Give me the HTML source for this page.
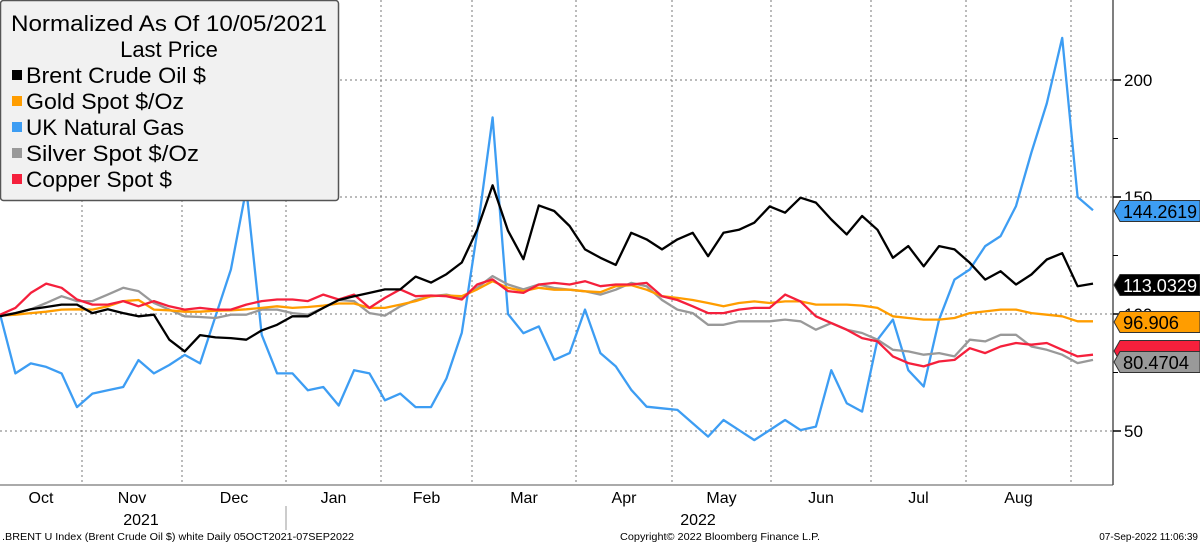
<!DOCTYPE html>
<html><head><meta charset="utf-8"><style>
body{margin:0;background:#fff;}
svg{display:block;font-family:"Liberation Sans",sans-serif;}
</style></head><body>
<svg id="chart" width="1200" height="544" viewBox="0 0 1200 544">
<g id="grid"></g>
<g id="series"></g>
<g id="axes"></g>
<g>
  <rect x="0.5" y="0.5" width="338" height="200" rx="3" fill="#f1f1f1" stroke="#555" stroke-width="1.5"/>
  <text x="169" y="31" font-size="22" text-anchor="middle" textLength="316" lengthAdjust="spacingAndGlyphs">Normalized As Of 10/05/2021</text>
  <text x="169" y="57" font-size="22" text-anchor="middle">Last Price</text>
  <g><rect x="12" y="70" width="10" height="10" fill="#000"/><text x="26" y="83" font-size="22" textLength="180" lengthAdjust="spacingAndGlyphs">Brent Crude Oil $</text></g>
  <g><rect x="12" y="96" width="10" height="10" fill="#ff9d00"/><text x="26" y="109" font-size="22" textLength="158" lengthAdjust="spacingAndGlyphs">Gold Spot $/Oz</text></g>
  <g><rect x="12" y="122" width="10" height="10" fill="#3d9df3"/><text x="26" y="135" font-size="22" textLength="158" lengthAdjust="spacingAndGlyphs">UK Natural Gas</text></g>
  <g><rect x="12" y="148" width="10" height="10" fill="#999"/><text x="26" y="161" font-size="22" textLength="173" lengthAdjust="spacingAndGlyphs">Silver Spot $/Oz</text></g>
  <g><rect x="12" y="174" width="10" height="10" fill="#f5203c"/><text x="26" y="187" font-size="22" textLength="146" lengthAdjust="spacingAndGlyphs">Copper Spot $</text></g>
</g>
<g id="tags"></g>
<g font-size="10">
  <text x="2" y="540" textLength="352" lengthAdjust="spacingAndGlyphs">.BRENT U Index (Brent Crude Oil $) white  Daily 05OCT2021-07SEP2022</text>
  <text x="620" y="540" textLength="200" lengthAdjust="spacingAndGlyphs">Copyright© 2022 Bloomberg Finance L.P.</text>
  <text x="1198" y="540" text-anchor="end">07-Sep-2022 11:06:39</text>
</g>
</svg>
<script>
const months = ["Oct","Nov","Dec","Jan","Feb","Mar","Apr","May","Jun","Jul","Aug"];
const monthBounds = [0,82,182,286,381,472,576,672,771,871,966,1071];
const yTicks = [50,100,150,200];
const brent = [99,100.4,102,103,104,104,100.4,102,100.4,99,99.7,89,84,91,90,89.7,89,93,95.4,99,99,102.6,106,107.6,109,110.5,110.5,116,113.4,117,122,136,155,135.6,123.4,146.4,
144,137.6,127.6,124,121,134.7,131.9,127.6,131.9,134.7,124.7,134.7,136,139,146,143.3,149.7,147.6,140.4,134,141.9,136,124,129,120.4,129,127.6,121.9,114.7,118.3,112.6,116.9,123.3,126,111.9,113];
const gold = [99.3,99.7,100.4,101,101.9,102,101.9,103.3,105.5,106,101.9,101.6,101,101,101.4,101.6,102,102.6,103.3,102.6,103,103.6,104.5,104.5,102.6,102.6,104,105.5,107.6,107.9,107.6,110.5,114,111.2,109.8,111.2,
110.4,110.4,109.7,109.3,111.9,112.3,110.4,107.6,106.9,106,104.7,103.3,104.7,105.4,104.7,105.4,105.4,104,104,104,103.6,102.6,99,98.3,97.6,97.6,98.3,100.4,101.1,101.9,101.9,100.4,99.7,99,96.9,96.9];
const silver = [99.3,100.4,102,104.7,107.6,105.5,105.5,108.3,111.2,109.8,104.7,101.9,99,98.7,98.3,99.7,99.7,101.9,101.9,100.4,99.7,102.6,106,105.5,100.4,99.3,103.3,106,107.6,108.3,106.9,111.2,116.2,112.6,110.5,112.6,
111.1,110.4,109.7,108.3,110.4,113.3,111.9,106,101.9,100.4,95.4,95.4,96.9,96.9,96.9,97.6,96.9,93.3,96.1,93.3,91.9,89,84.7,84,82.6,83.3,81.9,89,88.3,91.1,91.1,86.1,84.7,82.6,79,80.4];
const copper = [99.7,102.6,109,113,111.2,106.2,104,104,105.5,103.3,105.5,103.3,101.9,102.6,101.9,101.9,104,105.5,106.2,106.2,105.5,108.3,106.2,108.3,102.6,106.9,110.5,107.6,107.9,107.6,106.2,112.6,114.8,109.8,109,112.6,
113.3,112.6,114,111.9,112.6,112.6,113.3,107.6,106,103.3,100.4,100.4,101.9,102.6,102.6,108.3,105.4,99,96.1,93.3,89.7,88.3,81.9,79,77.6,79.7,80.4,85.4,83.3,86.1,87.6,86.9,87.6,84.7,81.9,82.6];
const gas = [100,74.6,78.9,77.4,74.6,60.2,66,67.4,68.8,80.3,74.6,78.2,82.5,78.9,99,119,153.6,91.1,74.6,74.6,67.4,68.8,60.9,76,74.6,63.1,66,60.2,60.2,72.4,92,135,184,100,91.8,94.7,
80.4,83.3,101.9,83.3,77.6,67.6,60.4,59.7,59,53.3,47.6,54.7,50.4,46.1,50.4,54.7,50.4,51.9,76,61.9,58.3,89,97.6,76,69,97.6,114.7,119,129,133.3,146.1,169,190,218,150,144.3];
const lastValues = ["144.2619","113.0329","96.906","80.4704"];

const NS="http://www.w3.org/2000/svg";
const X0=0, X1=1093, N=brent.length;
function xScale(i){return X0+(X1-X0)*i/(N-1);}
function yScale(v){return 314-(v-100)*2.34;}
function mk(tag,attrs,parent){const e=document.createElementNS(NS,tag);for(const k in attrs)e.setAttribute(k,attrs[k]);parent.appendChild(e);return e;}

const grid=document.getElementById('grid');
yTicks.forEach(t=>{
  const l=mk('line',{x1:0,x2:1113,y1:yScale(t),y2:yScale(t),stroke:'#777','stroke-dasharray':'2,3','stroke-width':1},grid);
  
  
});
monthBounds.slice(1).forEach((b,i)=>{
  const l=mk('line',{x1:b,x2:b,y1:0,y2:485,stroke:'#777','stroke-dasharray':'2,3','stroke-width':1},grid);
  
  
});

const seriesG=document.getElementById('series');
const defs=[[gas,'#3d9df3','gas-line'],[silver,'#999999','silver-line'],[gold,'#ff9d00','gold-line'],[copper,'#f5203c','copper-line'],[brent,'#000000','brent-line']];
defs.forEach(([arr,col,name])=>{
  const d=arr.map((v,i)=>(i?'L':'M')+xScale(i).toFixed(1)+','+yScale(v).toFixed(1)).join(' ');
  const p=mk('path',{d:d,fill:'none',stroke:col,'stroke-width':2.3,'stroke-linejoin':'round'},seriesG);
  
  
});

const axes=document.getElementById('axes');
mk('line',{x1:1113,x2:1113,y1:0,y2:485,stroke:'#555','stroke-width':1.5},axes);
mk('line',{x1:0,x2:1113,y1:485,y2:485,stroke:'#555','stroke-width':1},axes);
yTicks.forEach(t=>{
  mk('line',{x1:1113,x2:1121,y1:yScale(t),y2:yScale(t),stroke:'#000','stroke-width':1.5},axes);
  const tx=mk('text',{x:1124,y:yScale(t)+6,'font-size':17},axes);
  tx.textContent=t;
  
  
});
[75,125,175].forEach(t=>{mk('line',{x1:1113,x2:1118,y1:yScale(t),y2:yScale(t),stroke:'#000'},axes);});
months.forEach((m,i)=>{
  const cx=(monthBounds[i]+monthBounds[i+1])/2;
  const tx=mk('text',{x:cx,y:503,'font-size':16,'text-anchor':'middle'},axes);
  tx.textContent=m;
  
  
});
[['2021',141],['2022',698]].forEach(([y,x])=>{
  const tx=mk('text',{x:x,y:525,'font-size':16,'text-anchor':'middle'},axes);
  tx.textContent=y;
  
  
});
mk('line',{x1:286,x2:286,y1:506,y2:530,stroke:'#999'},axes);

const tags=document.getElementById('tags');
const tagStyles=[[211,'#3d9df3','#000','tag-gas'],[285,'#000','#fff','tag-brent'],[351,'#f5203c','#000','tag-copper'],[322,'#ff9d00','#000','tag-gold'],[362,'#999','#000','tag-silver']];
const tagText={ 'tag-gas':lastValues[0],'tag-brent':lastValues[1],'tag-gold':lastValues[2],'tag-silver':lastValues[3],'tag-copper':'' };
tagStyles.forEach(([cy,bg,fg,name])=>{
  const g=mk('g',{},tags);
  
  
  mk('path',{d:`M1114,${cy} L1120,${cy-10.5} H1200 V${cy+10.5} H1120 Z`,fill:bg,stroke:'#333','stroke-width':1},g);
  const txt=tagText[name];
  if(txt){
    const w = txt.length>=8 ? 74 : (txt.length===7 ? 66 : 56);
    const t=mk('text',{x:1123,y:cy+7,'font-size':18,fill:fg,textLength:w,lengthAdjust:'spacingAndGlyphs'},g);
    t.textContent=txt;
  }
});
</script>
</body></html>
